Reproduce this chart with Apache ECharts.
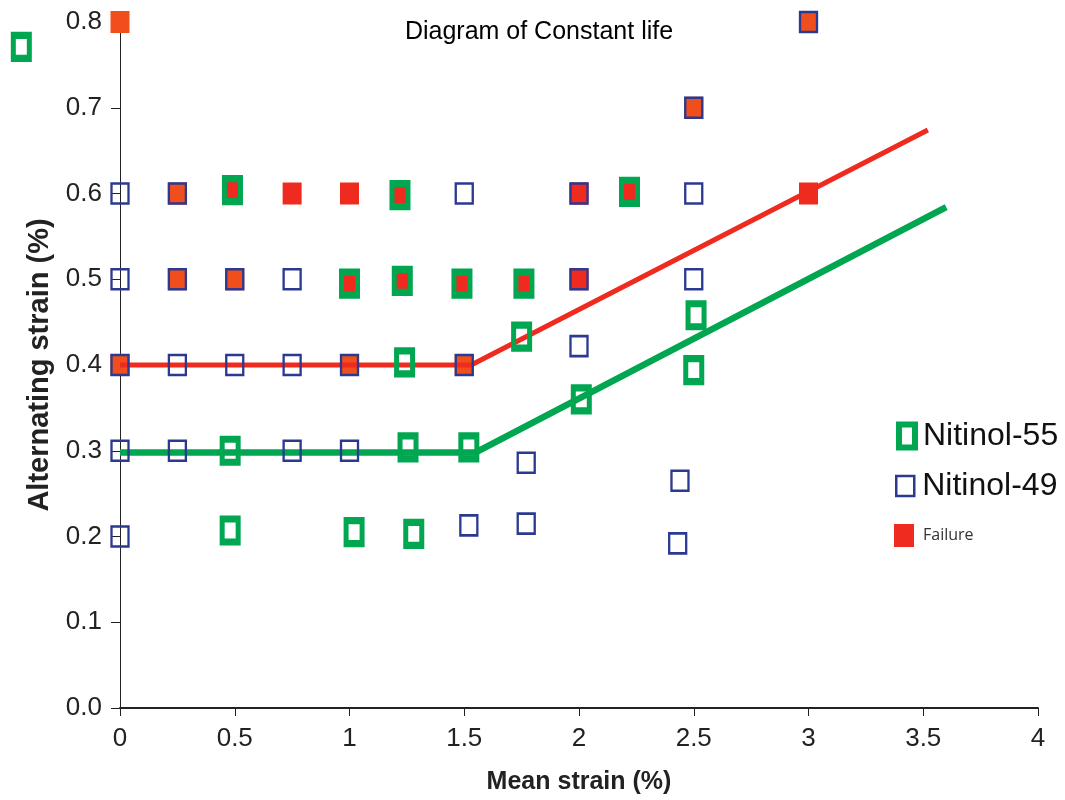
<!DOCTYPE html>
<html>
<head>
<meta charset="utf-8">
<title>Diagram of Constant life</title>
<script src="https://cdn.jsdelivr.net/npm/echarts@6/dist/echarts.min.js"></script>
<style>
  html, body { margin: 0; padding: 0; background: #fff; }
  #chart { width: 1065px; height: 800px; }
</style>
</head>
<body>
<div id="chart"></div>
<script>
// mean strain (%) , alternating strain (%)
const nitinol55 = [
  [-0.43, 0.771],
  [0.49, 0.604], [1.22, 0.598], [2.22, 0.602],
  [1.0, 0.495], [1.23, 0.498], [1.49, 0.495], [1.76, 0.495],
  [1.24, 0.403], [1.75, 0.433], [2.01, 0.36], [2.51, 0.458], [2.5, 0.394],
  [0.48, 0.3], [1.255, 0.304], [1.52, 0.304],
  [0.48, 0.207], [1.02, 0.205], [1.28, 0.203]
];
const nitinol49 = [
  [3.0, 0.8], [2.5, 0.7],
  [0, 0.6], [0.25, 0.6], [1.5, 0.6], [2.0, 0.6], [2.5, 0.6],
  [0, 0.5], [0.25, 0.5], [0.5, 0.5], [0.75, 0.5], [2.0, 0.5], [2.5, 0.5],
  [0, 0.4], [0.25, 0.4], [0.5, 0.4], [0.75, 0.4], [1.0, 0.4], [1.5, 0.4], [2.0, 0.422],
  [0, 0.3], [0.25, 0.3], [0.75, 0.3], [1.0, 0.3], [1.77, 0.286], [2.44, 0.265],
  [0, 0.2], [1.52, 0.213], [1.77, 0.215], [2.43, 0.192]
];
// failures, two shades as printed
const failureOrange = [
  [0, 0.8], [3.0, 0.8], [2.5, 0.7], [0.25, 0.6], [0.25, 0.5], [0.5, 0.5],
  [0, 0.4], [1.0, 0.4], [1.5, 0.4]
];
const failureRed = [
  [0.49, 0.604], [0.75, 0.6], [1.0, 0.6], [1.22, 0.598], [2.0, 0.6], [2.22, 0.602], [3.0, 0.6],
  [1.0, 0.495], [1.23, 0.498], [1.49, 0.495], [1.76, 0.495], [2.0, 0.5]
];
// constant life lines
const lineN49 = [[0, 0.4], [1.53, 0.4], [3.52, 0.674]];
const lineN55 = [[0, 0.298], [1.55, 0.298], [3.6, 0.584]];

const GREEN = '#00A650';
const BLUE = '#2B3990';
const RED = '#EE2B1E';
const ORANGE = '#F04E1C';
const SANS = "'Liberation Sans', Arial, sans-serif";

const chart = echarts.init(document.getElementById('chart'), null, { renderer: 'canvas' });

const option = {
  backgroundColor: '#fff',
  animation: false,
  title: {
    text: 'Diagram of Constant life',
    left: 534,
    top: 15,
    textAlign: 'center',
    textStyle: { fontFamily: SANS, fontSize: 25, fontWeight: 'normal', color: '#000' }
  },
  grid: { left: 120, right: 27, top: 22, bottom: 90, containLabel: false },
  legend: [
    {
      data: ['Nitinol-55'], left: 891, top: 415, orient: 'vertical',
      selectedMode: false, itemWidth: 16, itemHeight: 23,
      itemStyle: { borderWidth: 6, borderColor: GREEN, color: 'rgba(0,0,0,0)', opacity: 1 },
      textStyle: { fontFamily: SANS, fontSize: 32, color: '#111', padding: [0, 0, 0, 3] }
    },
    {
      data: ['Nitinol-49'], left: 890, top: 465, orient: 'vertical',
      selectedMode: false, itemWidth: 18, itemHeight: 20,
      itemStyle: { borderWidth: 2.5, borderColor: BLUE, color: 'rgba(0,0,0,0)', opacity: 1 },
      textStyle: { fontFamily: SANS, fontSize: 32, color: '#111', padding: [0, 0, 0, 3] }
    },
    {
      data: ['Failure'], left: 889, top: 519, orient: 'vertical',
      selectedMode: false, itemWidth: 20, itemHeight: 23,
      itemStyle: { borderWidth: 0, color: RED, opacity: 1 },
      textStyle: { fontFamily: "'Open Sans', 'Liberation Sans', sans-serif", fontSize: 16, color: '#333', padding: [0, 0, 0, 4] }
    }
  ],
  xAxis: {
    type: 'value', min: 0, max: 4, interval: 0.5,
    name: 'Mean strain (%)', nameLocation: 'middle', nameGap: 62,
    nameTextStyle: { fontFamily: SANS, fontSize: 25, fontWeight: 'bold', color: '#222' },
    axisLine: { show: true, onZero: false, lineStyle: { color: '#222', width: 2 } },
    axisTick: { show: true, inside: false, length: 8, lineStyle: { color: '#222', width: 1 } },
    axisLabel: { fontFamily: SANS, fontSize: 26, color: '#222', margin: 18 },
    splitLine: { show: false }
  },
  yAxis: {
    type: 'value', min: 0, max: 0.8, interval: 0.1,
    name: 'Alternating strain (%)', nameLocation: 'middle', nameGap: 64, nameRotate: 90,
    nameTextStyle: { fontFamily: SANS, fontSize: 29, fontWeight: 'bold', color: '#222' },
    axisLine: { show: true, onZero: false, lineStyle: { color: '#222', width: 1 } },
    axisTick: { show: true, inside: false, length: 9, lineStyle: { color: '#222', width: 1 } },
    axisLabel: { fontFamily: SANS, fontSize: 26, color: '#222', margin: 18,
      formatter: v => v.toFixed(1) },
    splitLine: { show: false }
  },
  series: [
    {
      name: 'Failure', type: 'scatter', data: failureOrange, z: 2, clip: false,
      symbol: 'rect', symbolSize: [19, 22],
      itemStyle: { color: ORANGE, opacity: 1 }
    },
    {
      name: 'Failure', type: 'scatter', data: failureRed, z: 2, clip: false,
      symbol: 'rect', symbolSize: [19, 22],
      itemStyle: { color: RED, opacity: 1 }
    },
    {
      name: 'N49 line', type: 'line', data: lineN49, z: 3, symbol: 'none',
      lineStyle: { color: RED, width: 5 }
    },
    {
      name: 'N55 line', type: 'line', data: lineN55, z: 3, symbol: 'none',
      lineStyle: { color: GREEN, width: 6.5 }
    },
    {
      name: 'Nitinol-49', type: 'scatter', data: nitinol49, z: 4, clip: false,
      symbol: 'rect', symbolSize: [17, 20],
      itemStyle: { color: 'rgba(0,0,0,0)', borderColor: BLUE, borderWidth: 2.5, opacity: 1 }
    },
    {
      name: 'Nitinol-55', type: 'scatter', data: nitinol55, z: 5, clip: false,
      symbol: 'rect', symbolSize: [16, 23],
      itemStyle: { color: 'rgba(0,0,0,0)', borderColor: GREEN, borderWidth: 6, opacity: 1 }
    }
  ]
};

chart.setOption(option);
</script>
</body>
</html>
